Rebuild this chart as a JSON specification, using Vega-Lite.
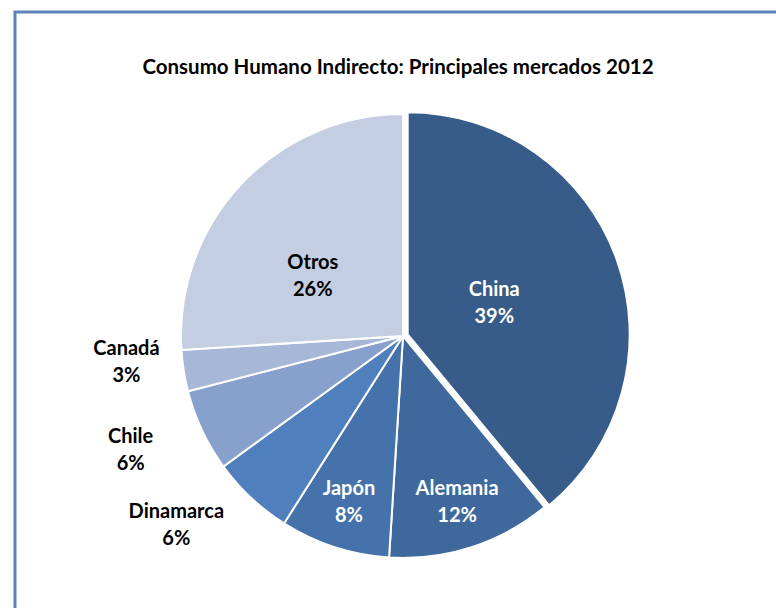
{
  "$schema": "https://vega.github.io/schema/vega-lite/v6.json",
  "width": 776,
  "height": 648,
  "autosize": {"type": "none"},
  "padding": {"left": 15, "top": 12, "right": 0, "bottom": 0},
  "background": "white",
  "view": {"stroke": "#5a83b9", "strokeWidth": 3, "fill": "white"},
  "config": {"view": {"stroke": "#5a83b9", "strokeWidth": 3}},
  "title": {
    "text": "Consumo Humano Indirecto: Principales mercados 2012",
    "font": "Lato",
    "fontSize": 20.5,
    "fontWeight": "bold",
    "color": "#000000",
    "anchor": "middle",
    "frame": "group",
    "offset": -66,
    "dx": -5
  },
  "data": {
    "values": [
      {"pais": "China", "valor": 39, "orden": 1},
      {"pais": "Alemania", "valor": 12, "orden": 2},
      {"pais": "Japón", "valor": 8, "orden": 3},
      {"pais": "Dinamarca", "valor": 6, "orden": 4},
      {"pais": "Chile", "valor": 6, "orden": 5},
      {"pais": "Canadá", "valor": 3, "orden": 6},
      {"pais": "Otros", "valor": 26, "orden": 7}
    ]
  },
  "transform": [{"calculate": "[datum.pais, datum.valor + '%']", "as": "etiqueta"}],
  "encoding": {
    "theta": {"field": "valor", "type": "quantitative", "stack": true},
    "order": {"field": "orden", "type": "quantitative"},
    "detail": {"field": "pais", "type": "nominal"}
  },
  "layer": [
    {
      "mark": {"type": "arc", "radius": 222, "stroke": "white", "strokeWidth": 2},
      "encoding": {
        "color": {
          "field": "pais", "type": "nominal", "legend": null,
          "scale": {
            "domain": ["China", "Alemania", "Japón", "Dinamarca", "Chile", "Canadá", "Otros"],
            "range": ["#375c89", "#3f689c", "#4672ac", "#4f7fbc", "#87a1cc", "#a7b7d8", "#c4cee2"]
          }
        },
        "opacity": {"condition": {"test": "datum.pais === 'China'", "value": 0}, "value": 1}
      }
    },
    {
      "mark": {"type": "arc", "radius": 222, "stroke": "white", "strokeWidth": 2, "xOffset": 4.7, "yOffset": -1.7},
      "encoding": {
        "color": {
          "field": "pais", "type": "nominal", "legend": null,
          "scale": {
            "domain": ["China", "Alemania", "Japón", "Dinamarca", "Chile", "Canadá", "Otros"],
            "range": ["#375c89", "#3f689c", "#4672ac", "#4f7fbc", "#87a1cc", "#a7b7d8", "#c4cee2"]
          }
        },
        "opacity": {"condition": {"test": "datum.pais === 'China'", "value": 1}, "value": 0}
      }
    },
    {
      "mark": {"type": "text", "radius": 92, "xOffset": 4.7, "yOffset": -15.2, "font": "Lato", "fontSize": 20, "fontWeight": "bold", "lineHeight": 27, "fill": "white", "align": "center", "baseline": "middle"},
      "encoding": {
        "text": {"field": "etiqueta"},
        "opacity": {"condition": {"test": "datum.pais === 'China'", "value": 1}, "value": 0}
      }
    },
    {
      "mark": {"type": "text", "radius": 175, "yOffset": -13.5, "font": "Lato", "fontSize": 20, "fontWeight": "bold", "lineHeight": 27, "fill": "white", "align": "center", "baseline": "middle"},
      "encoding": {
        "text": {"field": "etiqueta"},
        "opacity": {"condition": {"test": "datum.pais === 'Alemania' || datum.pais === 'Japón'", "value": 1}, "value": 0}
      }
    },
    {
      "mark": {"type": "text", "radius": 110, "xOffset": -10, "yOffset": 2.5, "font": "Lato", "fontSize": 20, "fontWeight": "bold", "lineHeight": 27, "fill": "black", "align": "center", "baseline": "middle"},
      "encoding": {
        "text": {"field": "etiqueta"},
        "opacity": {"condition": {"test": "datum.pais === 'Otros'", "value": 1}, "value": 0}
      }
    },
    {
      "mark": {"type": "text", "radius": 280, "xOffset": 0, "yOffset": -30.5, "font": "Lato", "fontSize": 20, "fontWeight": "bold", "lineHeight": 27, "fill": "black", "align": "center", "baseline": "middle"},
      "encoding": {
        "text": {"field": "etiqueta"},
        "opacity": {"condition": {"test": "datum.pais === 'Canadá'", "value": 1}, "value": 0}
      }
    },
    {
      "mark": {"type": "text", "radius": 280, "xOffset": -19, "yOffset": -18.5, "font": "Lato", "fontSize": 20, "fontWeight": "bold", "lineHeight": 27, "fill": "black", "align": "center", "baseline": "middle"},
      "encoding": {
        "text": {"field": "etiqueta"},
        "opacity": {"condition": {"test": "datum.pais === 'Chile'", "value": 1}, "value": 0}
      }
    },
    {
      "mark": {"type": "text", "radius": 280, "xOffset": -35, "yOffset": -28.5, "font": "Lato", "fontSize": 20, "fontWeight": "bold", "lineHeight": 27, "fill": "black", "align": "center", "baseline": "middle"},
      "encoding": {
        "text": {"field": "etiqueta"},
        "opacity": {"condition": {"test": "datum.pais === 'Dinamarca'", "value": 1}, "value": 0}
      }
    }
  ]
}
